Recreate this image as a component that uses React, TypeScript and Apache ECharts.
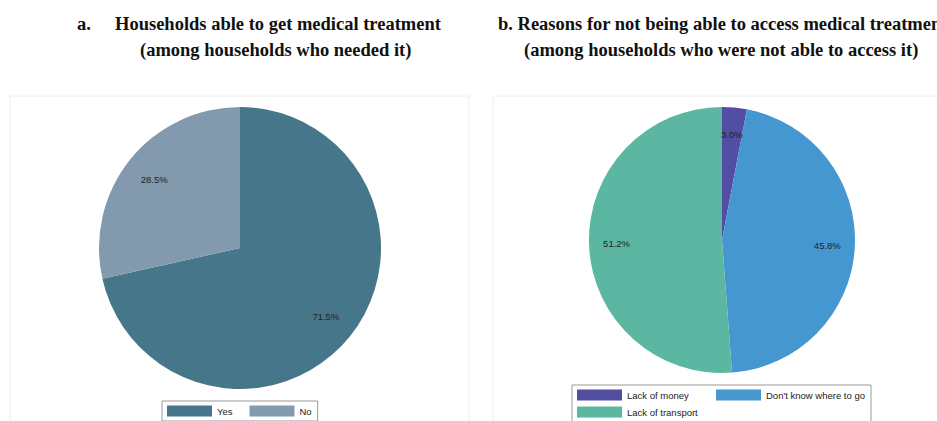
import React, { useEffect, useRef } from "react";
import * as echarts from "echarts";

const leftCategories = ["Yes", "No"];
const leftValues = [71.5, 28.5];
const leftColors = ["#46768a", "#8299ae"];

const rightCategories = ["Lack of money", "Don't know where to go", "Lack of transport"];
const rightValues = [3.0, 45.8, 51.2];
const rightColors = ["#524ea3", "#4597d0", "#5cb7a2"];

const titleA1 = "a.";
const titleA2 = "Households able to get medical treatment";
const titleA3 = "(among households who needed it)";
const titleB1 = "b. Reasons for not being able to access medical treatment";
const titleB2 = "(among households who were not able to access it)";

const serif = "'Liberation Serif', 'DejaVu Serif', serif";
const sans = "'Liberation Sans', Arial, sans-serif";

export default function App() {
  const ref = useRef<HTMLDivElement>(null);
  useEffect(() => {
    if (!ref.current) return;
    const chart = echarts.init(ref.current, undefined, { renderer: "svg" });
    const tStyle = { fontFamily: serif, fontWeight: "bold" as const, fontSize: 18.5, color: "#111" };
    const labelStyle = {
      show: true,
      position: "inside" as const,
      formatter: (p: any) => p.value.toFixed(1) + "%",
      fontFamily: sans,
      fontSize: 9.5,
      color: "#222",
    };
    const mk = (names: string[], vals: number[], colors: string[]) =>
      names.map((n, i) => ({ name: n, value: vals[i], itemStyle: { color: colors[i] } }));
    const mkT = (names: string[], vals: number[]) =>
      names.map((n, i) => ({ name: n, value: vals[i], itemStyle: { color: "rgba(0,0,0,0)" } }));

    chart.setOption({
      animation: false,
      backgroundColor: "#ffffff",
      title: [
        { text: titleA1, left: 77, top: 14, textStyle: tStyle, padding: 0 },
        { text: titleA2, left: 115, top: 14, textStyle: tStyle, padding: 0 },
        { text: titleA3, left: 140, top: 40, textStyle: tStyle, padding: 0 },
        { text: titleB1, left: 498, top: 14, textStyle: tStyle, padding: 0 },
        { text: titleB2, left: 524, top: 40, textStyle: tStyle, padding: 0 },
      ],
      graphic: [
        { type: "rect", shape: { x: 10, y: 96, width: 459, height: 340 }, style: { fill: "none", stroke: "#eeeeee", lineWidth: 1 }, silent: true },
        { type: "rect", shape: { x: 493, y: 96, width: 470, height: 340 }, style: { fill: "none", stroke: "#eeeeee", lineWidth: 1 }, silent: true },
      ],
      legend: [
        {
          data: leftCategories,
          left: 162,
          top: 401,
          orient: "horizontal",
          icon: "rect",
          itemWidth: 45,
          itemHeight: 11,
          itemGap: 17,
          padding: [3, 6, 3, 5],
          borderColor: "#999",
          borderWidth: 1,
          borderRadius: 0,
          selectedMode: false,
          textStyle: { fontFamily: sans, fontSize: 9.5, color: "#222", lineHeight: 14 },
        },
        {
          data: [
            { name: rightCategories[0], textStyle: { width: 86 } },
            { name: rightCategories[1], textStyle: { width: 100 } },
            { name: rightCategories[2], textStyle: { width: 86 } },
          ],
          left: 572,
          top: 385,
          width: 300,
          orient: "horizontal",
          icon: "rect",
          itemWidth: 45,
          itemHeight: 11,
          itemGap: 3,
          padding: [3, 5, 3, 5],
          borderColor: "#999",
          borderWidth: 1,
          borderRadius: 0,
          selectedMode: false,
          textStyle: { fontFamily: sans, fontSize: 9.5, color: "#222", lineHeight: 14 },
        },
      ],
      series: [
        {
          type: "pie",
          center: [240, 248],
          radius: 141,
          startAngle: 90,
          clockwise: true,
          label: { show: false },
          labelLine: { show: false },
          silent: true,
          data: mk(leftCategories, leftValues, leftColors),
        },
        {
          type: "pie",
          center: [240, 248],
          radius: 214,
          startAngle: 90,
          clockwise: true,
          label: labelStyle,
          labelLine: { show: false },
          silent: true,
          z: 3,
          data: mkT(leftCategories, leftValues),
        },
        {
          type: "pie",
          center: [722, 240],
          radius: 133,
          startAngle: 90,
          clockwise: true,
          label: { show: false },
          labelLine: { show: false },
          silent: true,
          data: mk(rightCategories, rightValues, rightColors),
        },
        {
          type: "pie",
          center: [722, 240],
          radius: 205,
          startAngle: 90,
          clockwise: true,
          label: labelStyle,
          labelLine: { show: false },
          silent: true,
          z: 3,
          data: mkT(rightCategories, rightValues),
        },
      ],
    });
    return () => chart.dispose();
  }, []);
  return (
    <div
      ref={ref}
      style={{ position: "fixed", left: 0, top: 0, width: 937, height: 421 }}
    />
  );
}
